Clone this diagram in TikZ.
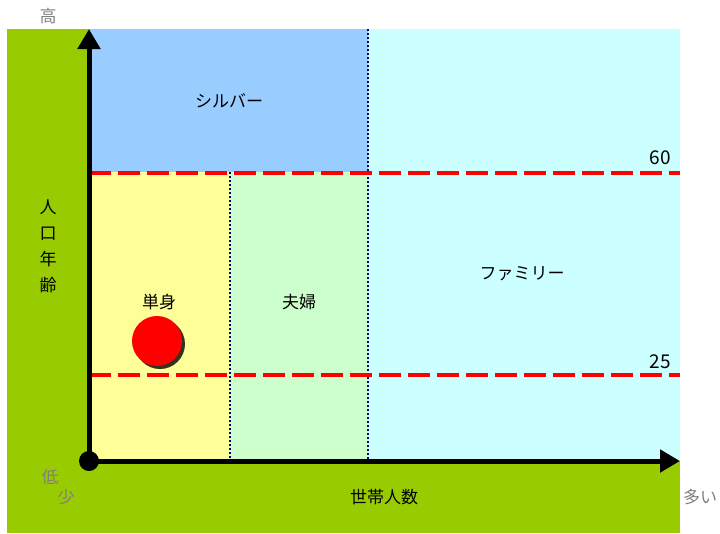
\documentclass[tikz,border=0pt]{standalone}
\usepackage{fontspec}
\setmainfont{Noto Sans CJK JP}
\definecolor{bggreen}{RGB}{153,204,0}
\definecolor{silverblue}{RGB}{153,204,255}
\definecolor{familycyan}{RGB}{204,255,255}
\definecolor{singleyellow}{RGB}{255,255,153}
\definecolor{couplegreen}{RGB}{204,255,204}
\definecolor{sepnavy}{RGB}{0,0,128}
\definecolor{axisgray}{RGB}{128,128,128}
\usetikzlibrary{positioning,arrows.meta}

\begin{document}
\begin{tikzpicture}[x=1pt,y=-1pt,
    lbl/.style={font=\fontsize{17}{19}\selectfont, inner sep=0pt},
    endlbl/.style={lbl, text=axisgray},
    axis/.style={line width=5pt, -{Triangle[length=20pt,width=22pt]}},
    border/.style={red, line width=4pt, dash pattern=on 22pt off 7pt},
    sep/.style={sepnavy, line width=1.8pt, dash pattern=on 2pt off 2pt}]
    \useasboundingbox (0,0) rectangle (720,533);

    % Background and areas
    \fill[bggreen] (7,29) rectangle (680,533);
    \fill[familycyan] (368,29) rectangle (680,461);
    \fill[silverblue] (89,29) rectangle (368,172);
    \fill[singleyellow] (89,172) rectangle (230,461);
    \fill[couplegreen] (230,172) rectangle (368,461);

    % Area separators
    \coordinate (s1top) at (368,29);
    \coordinate (s1bot) at (368,461);
    \coordinate (s2top) at (230,172);
    \coordinate (s2bot) at (230,461);
    \draw[sep] (s1top) -- (s1bot);
    \draw[sep] (s2top) -- (s2bot);

    % Age borders
    \coordinate (b60l) at (89,173);
    \coordinate (b60r) at (680,173);
    \coordinate (b25l) at (89,375);
    \coordinate (b25r) at (680,375);
    \draw[border] (b60l) -- (b60r);
    \draw[border] (b25l) -- (b25r);
    \node[lbl, font=\fontsize{19}{21}\selectfont] (v60) at (660,158) {60};
    \node[lbl, font=\fontsize{19}{21}\selectfont] (v25) at (660,362) {25};

    % Axes
    \coordinate (O) at (89,461);
    \coordinate (ytop) at (89,29);
    \coordinate (xend) at (680,461);
    \draw[axis] (O) -- (ytop);
    \draw[axis] (O) -- (xend);
    \fill (O) circle (10);

    % Area labels
    \node[lbl] (silver) at (229,101) {シルバー};
    \node[lbl] (family) at (522,274) {ファミリー};
    \node[lbl] (single) at (159,302) {単身};
    \node[lbl] (couple) at (299,302) {夫婦};

    % Marker
    \fill[black, opacity=0.8] (160,344) circle (25);
    \fill[red] (157,341) circle (25);
    \node[inner sep=0pt] (me) at (157,341) {};

    % Axis labels
    \node[lbl] (xlabel) at (384,497) {世帯人数};
    \node[lbl, align=center, font=\fontsize{17}{26}\selectfont] (ylabel) at (48,246) {人\\口\\年\\齢};
    \node[endlbl] (high) at (48,16) {高};
    \node[endlbl] (low) at (50,477) {低};
    \node[endlbl] (few) at (66,497) {少};
    \node[endlbl] (many) at (700,497) {多い};
\end{tikzpicture}
\end{document}
